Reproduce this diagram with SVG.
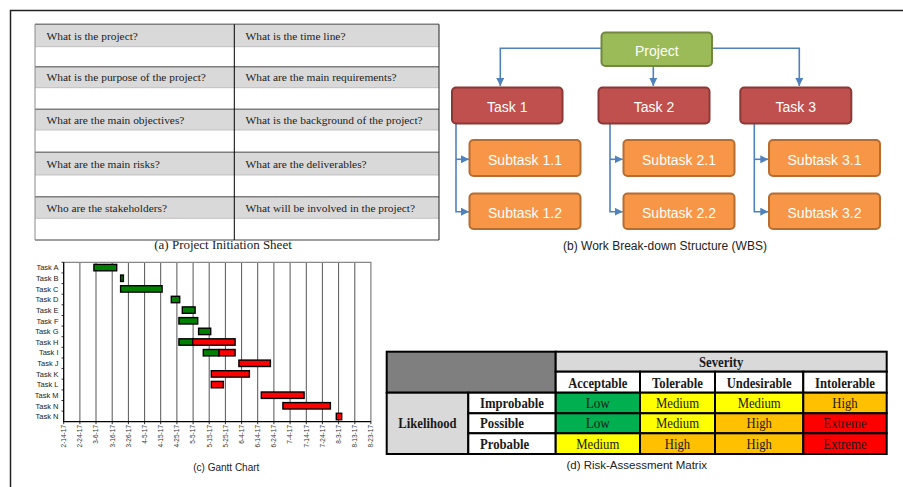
<svg xmlns="http://www.w3.org/2000/svg" width="903" height="487" viewBox="0 0 903 487">
<style>
.serif{font-family:"Liberation Serif","Times New Roman",serif}
.sans{font-family:"Liberation Sans",Arial,sans-serif}
.q{font-family:"Liberation Serif",serif;font-size:11.4px;fill:#222}
.grey{fill:#d9d9d9}
.wbs{font-family:"Liberation Sans",Arial,sans-serif;font-size:14px;fill:#fff;text-anchor:middle}
.proj rect{fill:#9bbb59;stroke:#71893f;stroke-width:2}
.task rect{fill:#c0504d;stroke:#8c3836;stroke-width:2}
.sub rect{fill:#f79646;stroke:#b66d31;stroke-width:2}
.conn{fill:none;stroke:#4f81bd;stroke-width:1.6}
.grid{stroke:#555;stroke-width:1}
.tl{font-family:"Liberation Sans",Arial,sans-serif;font-size:7.5px;fill:#222;text-anchor:end}
.dl{font-family:"Liberation Sans",Arial,sans-serif;font-size:6.5px;fill:#333;text-anchor:end}
.g{fill:#008000;stroke:#000;stroke-width:1.4}
.r{fill:#ff0000;stroke:#000;stroke-width:1.4}
.m rect{stroke:#000;stroke-width:2}
.mb{font-family:"Liberation Serif",serif;font-size:14.5px;font-weight:bold;fill:#1a1a1a;text-anchor:middle}
.mt{font-family:"Liberation Serif",serif;font-size:14.5px;fill:#1a1a1a;text-anchor:middle}
.cap{font-family:"Liberation Sans",Arial,sans-serif;fill:#222;text-anchor:middle}
</style>
<defs>
<marker id="arr" markerUnits="userSpaceOnUse" markerWidth="9" markerHeight="8" refX="8" refY="4" orient="auto">
<path d="M0,0 L8,4 L0,8 z" fill="#4f81bd"/>
</marker>
</defs>
<rect width="903" height="487" fill="#fff"/>
<!-- outer frame -->
<path d="M10.5,487 V10.5 H903" fill="none" stroke="#222" stroke-width="1.5"/>

<!-- (a) Project Initiation Sheet -->
<g id="initiation-sheet">
<rect class="grey" x="35" y="24.3" width="404" height="22.4"/>
<rect class="grey" x="35" y="66.7" width="404" height="21"/>
<rect class="grey" x="35" y="109.3" width="404" height="20.7"/>
<rect class="grey" x="35" y="152.3" width="404" height="22.7"/>
<rect class="grey" x="35" y="196.7" width="404" height="21.6"/>
<g stroke="#7f7f7f" stroke-width="1.4">
<line x1="35" y1="24.3" x2="439" y2="24.3"/>
<line x1="35" y1="66.7" x2="439" y2="66.7"/>
<line x1="35" y1="109.3" x2="439" y2="109.3"/>
<line x1="35" y1="152.3" x2="439" y2="152.3"/>
<line x1="35" y1="196.7" x2="439" y2="196.7"/>
<line x1="35" y1="240" x2="439" y2="240"/>
</g>
<g stroke="#b5b5b5" stroke-width="0.8">
<line x1="35" y1="46.7" x2="439" y2="46.7"/>
<line x1="35" y1="87.7" x2="439" y2="87.7"/>
<line x1="35" y1="130" x2="439" y2="130"/>
<line x1="35" y1="175" x2="439" y2="175"/>
<line x1="35" y1="218.3" x2="439" y2="218.3"/>
</g>
<line x1="35" y1="24.3" x2="35" y2="240" stroke="#8a8a8a" stroke-width="1"/>
<line x1="234.3" y1="24.3" x2="234.3" y2="240" stroke="#000" stroke-width="1"/>
<line x1="439" y1="24.3" x2="439" y2="240" stroke="#222" stroke-width="1"/>
<text class="q" x="46.5" y="39.5">What is the project?</text>
<text class="q" x="245.5" y="39.5">What is the time line?</text>
<text class="q" x="46.5" y="81.2">What is the purpose of the project?</text>
<text class="q" x="245.5" y="81.2">What are the main requirements?</text>
<text class="q" x="46.5" y="123.7">What are the main objectives?</text>
<text class="q" x="245.5" y="123.7">What is the background of the project?</text>
<text class="q" x="46.5" y="167.6">What are the main risks?</text>
<text class="q" x="245.5" y="167.6">What are the deliverables?</text>
<text class="q" x="46.5" y="211.5">Who are the stakeholders?</text>
<text class="q" x="245.5" y="211.5">What will be involved in the project?</text>
<text class="serif" x="223" y="249" font-size="13" fill="#222" text-anchor="middle">(a) Project Initiation Sheet</text>
</g>

<!-- (b) WBS -->
<g id="connectors">
<path class="conn" d="M601,48.3 H500.3 V86" marker-end="url(#arr)"/>
<path class="conn" d="M712.7,48.3 H799.3 V86" marker-end="url(#arr)"/>
<path class="conn" d="M653.3,66.7 V86" marker-end="url(#arr)"/>
<path class="conn" d="M456,124 V211.7 H469" marker-end="url(#arr)"/>
<path class="conn" d="M456,159.3 H469" marker-end="url(#arr)"/>
<path class="conn" d="M610,124 V211.7 H622.7" marker-end="url(#arr)"/>
<path class="conn" d="M610,159.3 H622.7" marker-end="url(#arr)"/>
<path class="conn" d="M754.3,124 V211.7 H768.3" marker-end="url(#arr)"/>
<path class="conn" d="M754.3,159.3 H768.3" marker-end="url(#arr)"/>
</g>
<g id="project" class="proj"><rect x="601.5" y="32.5" width="110.5" height="33.5" rx="4"/><text class="wbs" x="656.8" y="56.3" font-size="15">Project</text></g>
<g id="task1" class="task"><rect x="452" y="87.5" width="110.5" height="36" rx="4"/><text class="wbs" x="507.2" y="112">Task 1</text></g>
<g id="task2" class="task"><rect x="598.5" y="87.5" width="111" height="36" rx="4"/><text class="wbs" x="654" y="112">Task 2</text></g>
<g id="task3" class="task"><rect x="740.3" y="87.5" width="111" height="36" rx="4"/><text class="wbs" x="795.8" y="112">Task 3</text></g>
<g id="subtask11" class="sub"><rect x="469.5" y="140" width="111" height="36" rx="4"/><text class="wbs" x="525" y="164.5">Subtask 1.1</text></g>
<g id="subtask12" class="sub"><rect x="469.5" y="193.5" width="111" height="35.5" rx="4"/><text class="wbs" x="525" y="217.8">Subtask 1.2</text></g>
<g id="subtask21" class="sub"><rect x="623.5" y="140" width="111" height="36" rx="4"/><text class="wbs" x="679" y="164.5">Subtask 2.1</text></g>
<g id="subtask22" class="sub"><rect x="623.5" y="193.5" width="111" height="35.5" rx="4"/><text class="wbs" x="679" y="217.8">Subtask 2.2</text></g>
<g id="subtask31" class="sub"><rect x="769" y="140" width="111" height="36" rx="4"/><text class="wbs" x="824.5" y="164.5">Subtask 3.1</text></g>
<g id="subtask32" class="sub"><rect x="769" y="193.5" width="111" height="35.5" rx="4"/><text class="wbs" x="824.5" y="217.8">Subtask 3.2</text></g>
<text class="cap" x="665" y="250" font-size="12">(b) Work Break-down Structure (WBS)</text>

<!-- (c) Gantt chart -->
<g id="gantt">
<g class="grid">
<line x1="79.9" y1="262.3" x2="79.9" y2="421.7"/>
<line x1="96" y1="262.3" x2="96" y2="421.7"/>
<line x1="112.2" y1="262.3" x2="112.2" y2="421.7"/>
<line x1="128.4" y1="262.3" x2="128.4" y2="421.7"/>
<line x1="144.6" y1="262.3" x2="144.6" y2="421.7"/>
<line x1="160.7" y1="262.3" x2="160.7" y2="421.7"/>
<line x1="176.9" y1="262.3" x2="176.9" y2="421.7"/>
<line x1="193.1" y1="262.3" x2="193.1" y2="421.7"/>
<line x1="209.2" y1="262.3" x2="209.2" y2="421.7"/>
<line x1="225.4" y1="262.3" x2="225.4" y2="421.7"/>
<line x1="241.6" y1="262.3" x2="241.6" y2="421.7"/>
<line x1="257.7" y1="262.3" x2="257.7" y2="421.7"/>
<line x1="273.9" y1="262.3" x2="273.9" y2="421.7"/>
<line x1="290.1" y1="262.3" x2="290.1" y2="421.7"/>
<line x1="306.3" y1="262.3" x2="306.3" y2="421.7"/>
<line x1="322.4" y1="262.3" x2="322.4" y2="421.7"/>
<line x1="338.6" y1="262.3" x2="338.6" y2="421.7"/>
<line x1="354.8" y1="262.3" x2="354.8" y2="421.7"/>
</g>
<path d="M63.7,262.3 H370.9 V421.7" fill="none" stroke="#888" stroke-width="1.3"/>
<path d="M63.7,262.3 V421.7 H370.9" fill="none" stroke="#000" stroke-width="1.3"/>
<g stroke="#000" stroke-width="0.8">
<path d="M61.5,262.3h2.2M61.5,272.9h2.2M61.5,283.6h2.2M61.5,294.2h2.2M61.5,304.8h2.2M61.5,315.5h2.2M61.5,326.1h2.2M61.5,336.7h2.2M61.5,347.3h2.2M61.5,358h2.2M61.5,368.6h2.2M61.5,379.2h2.2M61.5,389.9h2.2M61.5,400.5h2.2M61.5,411.1h2.2"/>
<path d="M63.7,421.7v2.5M79.9,421.7v2.5M96,421.7v2.5M112.2,421.7v2.5M128.4,421.7v2.5M144.6,421.7v2.5M160.7,421.7v2.5M176.9,421.7v2.5M193.1,421.7v2.5M209.2,421.7v2.5M225.4,421.7v2.5M241.6,421.7v2.5M257.7,421.7v2.5M273.9,421.7v2.5M290.1,421.7v2.5M306.3,421.7v2.5M322.4,421.7v2.5M338.6,421.7v2.5M354.8,421.7v2.5M370.9,421.7v2.5"/>
</g>
<text class="tl" x="58.5" y="270.3">Task A</text>
<text class="tl" x="58.5" y="281">Task B</text>
<text class="tl" x="58.5" y="291.6">Task C</text>
<text class="tl" x="58.5" y="302.2">Task D</text>
<text class="tl" x="58.5" y="312.8">Task E</text>
<text class="tl" x="58.5" y="323.5">Task F</text>
<text class="tl" x="58.5" y="334.1">Task G</text>
<text class="tl" x="58.5" y="344.7">Task H</text>
<text class="tl" x="58.5" y="355.4">Task I</text>
<text class="tl" x="58.5" y="366">Task J</text>
<text class="tl" x="58.5" y="376.6">Task K</text>
<text class="tl" x="58.5" y="387.3">Task L</text>
<text class="tl" x="58.5" y="397.9">Task M</text>
<text class="tl" x="58.5" y="408.5">Task N</text>
<text class="tl" x="58.5" y="419.2">Task N</text>
<rect class="g" x="93.9" y="264.4" width="22.8" height="6.4"/>
<rect class="g" x="120.6" y="275.05" width="2.8" height="6.4"/>
<rect class="g" x="120.6" y="285.7" width="41.5" height="6.4"/>
<rect class="g" x="171.3" y="296.3" width="8.4" height="6.4"/>
<rect class="g" x="182.3" y="306.9" width="12.8" height="6.4"/>
<rect class="g" x="178.9" y="317.6" width="18.8" height="6.4"/>
<rect class="g" x="198.6" y="328.2" width="12.1" height="6.4"/>
<rect class="g" x="178.9" y="338.8" width="13.8" height="6.4"/>
<rect class="r" x="192.7" y="338.8" width="42.4" height="6.4"/>
<rect class="g" x="203.3" y="349.5" width="15.7" height="6.4"/>
<rect class="r" x="219" y="349.5" width="16.1" height="6.4"/>
<rect class="r" x="238.9" y="360.1" width="31.5" height="6.4"/>
<rect class="r" x="211.3" y="370.7" width="38.1" height="6.4"/>
<rect class="r" x="211.3" y="381.4" width="12.1" height="6.4"/>
<rect class="r" x="261.3" y="392" width="42.8" height="6.4"/>
<rect class="r" x="282.9" y="402.6" width="47.5" height="6.4"/>
<rect class="r" x="336.3" y="413.3" width="5.4" height="6.4"/>
<text class="dl" transform="translate(66,425) rotate(-90)">2-14-17</text>
<text class="dl" transform="translate(82.2,425) rotate(-90)">2-24-17</text>
<text class="dl" transform="translate(98.3,425) rotate(-90)">3-6-17</text>
<text class="dl" transform="translate(114.5,425) rotate(-90)">3-16-17</text>
<text class="dl" transform="translate(130.7,425) rotate(-90)">3-26-17</text>
<text class="dl" transform="translate(146.9,425) rotate(-90)">4-5-17</text>
<text class="dl" transform="translate(163,425) rotate(-90)">4-15-17</text>
<text class="dl" transform="translate(179.2,425) rotate(-90)">4-25-17</text>
<text class="dl" transform="translate(195.4,425) rotate(-90)">5-5-17</text>
<text class="dl" transform="translate(211.5,425) rotate(-90)">5-15-17</text>
<text class="dl" transform="translate(227.7,425) rotate(-90)">5-25-17</text>
<text class="dl" transform="translate(243.9,425) rotate(-90)">6-4-17</text>
<text class="dl" transform="translate(260,425) rotate(-90)">6-14-17</text>
<text class="dl" transform="translate(276.2,425) rotate(-90)">6-24-17</text>
<text class="dl" transform="translate(292.4,425) rotate(-90)">7-4-17</text>
<text class="dl" transform="translate(308.6,425) rotate(-90)">7-14-17</text>
<text class="dl" transform="translate(324.7,425) rotate(-90)">7-24-17</text>
<text class="dl" transform="translate(340.9,425) rotate(-90)">8-3-17</text>
<text class="dl" transform="translate(357.1,425) rotate(-90)">8-13-17</text>
<text class="dl" transform="translate(373.2,425) rotate(-90)">8-23-17</text>
<text class="cap" x="226.3" y="471" font-size="10">(c) Gantt Chart</text>
</g>

<!-- (d) Risk-Assessment Matrix -->
<g id="risk-matrix" class="m">
<rect x="386.7" y="351.7" width="169" height="41" fill="#7f7f7f"/>
<rect x="555.7" y="351.7" width="331" height="20" fill="#d9d9d9"/>
<rect x="555.7" y="371.7" width="84.3" height="21" fill="#fff"/>
<rect x="640" y="371.7" width="75" height="21" fill="#fff"/>
<rect x="715" y="371.7" width="88.3" height="21" fill="#fff"/>
<rect x="803.3" y="371.7" width="83.4" height="21" fill="#fff"/>
<rect x="386.7" y="392.7" width="81.6" height="61.3" fill="#d9d9d9"/>
<rect x="468.3" y="392.7" width="87.4" height="20.6" fill="#fff"/>
<rect x="468.3" y="413.3" width="87.4" height="20" fill="#fff"/>
<rect x="468.3" y="433.3" width="87.4" height="20.7" fill="#fff"/>
<rect x="555.7" y="392.7" width="84.3" height="20.6" fill="#00b050"/>
<rect x="640" y="392.7" width="75" height="20.6" fill="#ffff00"/>
<rect x="715" y="392.7" width="88.3" height="20.6" fill="#ffff00"/>
<rect x="803.3" y="392.7" width="83.4" height="20.6" fill="#ffc000"/>
<rect x="555.7" y="413.3" width="84.3" height="20" fill="#00b050"/>
<rect x="640" y="413.3" width="75" height="20" fill="#ffff00"/>
<rect x="715" y="413.3" width="88.3" height="20" fill="#ffc000"/>
<rect x="803.3" y="413.3" width="83.4" height="20" fill="#ff0000"/>
<rect x="555.7" y="433.3" width="84.3" height="20.7" fill="#ffff00"/>
<rect x="640" y="433.3" width="75" height="20.7" fill="#ffc000"/>
<rect x="715" y="433.3" width="88.3" height="20.7" fill="#ffc000"/>
<rect x="803.3" y="433.3" width="83.4" height="20.7" fill="#ff0000"/>
<text class="mb" x="721.2" y="366.5" textLength="44.3" lengthAdjust="spacingAndGlyphs">Severity</text>
<text class="mb" x="597.8" y="387.5" textLength="59" lengthAdjust="spacingAndGlyphs">Acceptable</text>
<text class="mb" x="677.5" y="387.5" textLength="51" lengthAdjust="spacingAndGlyphs">Tolerable</text>
<text class="mb" x="759.2" y="387.5" textLength="65" lengthAdjust="spacingAndGlyphs">Undesirable</text>
<text class="mb" x="845" y="387.5" textLength="60" lengthAdjust="spacingAndGlyphs">Intolerable</text>
<text class="mb" x="427.5" y="428" textLength="58.3" lengthAdjust="spacingAndGlyphs">Likelihood</text>
<text class="mb" x="512" y="407.8" textLength="64" lengthAdjust="spacingAndGlyphs">Improbable</text>
<text class="mb" x="502" y="428.3" textLength="44" lengthAdjust="spacingAndGlyphs">Possible</text>
<text class="mb" x="504.6" y="448.8" textLength="49.3" lengthAdjust="spacingAndGlyphs">Probable</text>
<text class="mt" x="597.8" y="407.8" textLength="24.3" lengthAdjust="spacingAndGlyphs">Low</text>
<text class="mt" x="677.5" y="407.8" textLength="43" lengthAdjust="spacingAndGlyphs">Medium</text>
<text class="mt" x="759.2" y="407.8" textLength="43" lengthAdjust="spacingAndGlyphs">Medium</text>
<text class="mt" x="845" y="407.8" textLength="25.3" lengthAdjust="spacingAndGlyphs">High</text>
<text class="mt" x="597.8" y="428.3" textLength="24.3" lengthAdjust="spacingAndGlyphs">Low</text>
<text class="mt" x="677.5" y="428.3" textLength="43" lengthAdjust="spacingAndGlyphs">Medium</text>
<text class="mt" x="759.2" y="428.3" textLength="25.3" lengthAdjust="spacingAndGlyphs">High</text>
<text class="mt" x="845" y="428.3" textLength="43.3" lengthAdjust="spacingAndGlyphs">Extreme</text>
<text class="mt" x="597.8" y="448.8" textLength="43" lengthAdjust="spacingAndGlyphs">Medium</text>
<text class="mt" x="677.5" y="448.8" textLength="25.3" lengthAdjust="spacingAndGlyphs">High</text>
<text class="mt" x="759.2" y="448.8" textLength="25.3" lengthAdjust="spacingAndGlyphs">High</text>
<text class="mt" x="845" y="448.8" textLength="43.3" lengthAdjust="spacingAndGlyphs">Extreme</text>
</g>
<text class="cap" x="636.7" y="469" font-size="11.5">(d) Risk-Assessment Matrix</text>
</svg>
